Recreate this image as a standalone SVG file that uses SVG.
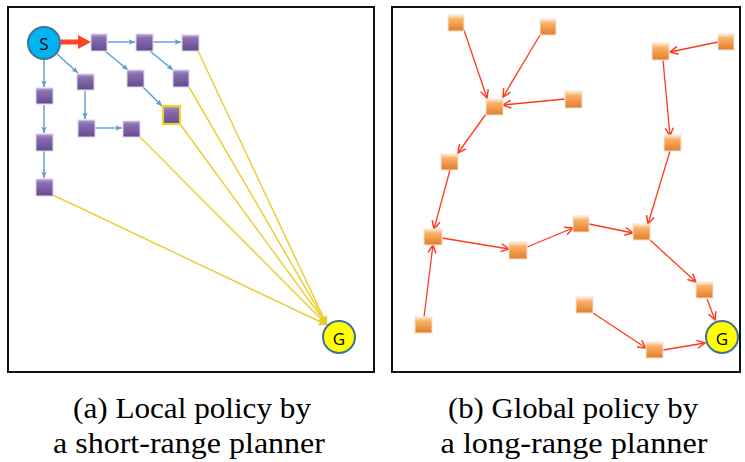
<svg xmlns="http://www.w3.org/2000/svg" width="745" height="462" viewBox="0 0 745 462">
  <defs>
    <linearGradient id="gPurple" x1="0" y1="0" x2="0" y2="1">
      <stop offset="0" stop-color="#b9a6d6"/>
      <stop offset="0.22" stop-color="#8a6fb3"/>
      <stop offset="1" stop-color="#654a8e"/>
    </linearGradient>
    <linearGradient id="gOrange" x1="0" y1="0" x2="0" y2="1">
      <stop offset="0" stop-color="#fff0d8"/>
      <stop offset="0.25" stop-color="#fbb26a"/>
      <stop offset="1" stop-color="#e27c28"/>
    </linearGradient>
    <marker id="mBlue" viewBox="0 0 10 10" refX="9" refY="5" markerUnits="userSpaceOnUse" markerWidth="8" markerHeight="8" orient="auto">
      <path d="M1,1.5 L9,5 L1,8.5 L3,5 Z" fill="#5b9bd5"/>
    </marker>
    <marker id="mYellow" viewBox="0 0 10 10" refX="9" refY="5" markerUnits="userSpaceOnUse" markerWidth="11" markerHeight="11" orient="auto">
      <path d="M1,1 L9,5 L1,9 L3,5 Z" fill="#e8cc30"/>
    </marker>
    <marker id="mRed" viewBox="0 0 10 10" refX="9" refY="5" markerUnits="userSpaceOnUse" markerWidth="10" markerHeight="10" orient="auto">
      <path d="M1,1 L9,5 L1,9" fill="none" stroke="#ff3a1c" stroke-width="1.5"/>
    </marker>
  </defs>
  <style>
    .frame { fill: #ffffff; stroke: #111111; stroke-width: 2; }
    .pnode { fill: url(#gPurple); stroke: #ddd6ea; stroke-width: 1; }
    .onode { fill: url(#gOrange); stroke: #efe3d6; stroke-width: 1; }
    .blue { stroke: #5b9bd5; stroke-width: 1.4; fill: none; marker-end: url(#mBlue); }
    .yellow { stroke: #ebcf36; stroke-width: 1.5; fill: none; marker-end: url(#mYellow); }
    .red { stroke: #ff3a1c; stroke-width: 1.3; fill: none; marker-end: url(#mRed); }
    .start { fill: #00b4f0; stroke: #41719c; stroke-width: 2; }
    .goal { fill: #ffff00; stroke: #41719c; stroke-width: 2; }
    .lbl { font-family: "Open Sans", "Liberation Sans", Arial, sans-serif; font-size: 17px; fill: #000; text-anchor: middle; dominant-baseline: central; }
    .cap { font-family: "Liberation Serif", "DejaVu Serif", serif; font-size: 30px; fill: #000; text-anchor: middle; }
  </style>

  <!-- panel frames -->
  <rect class="frame" x="8" y="7" width="366" height="365"/>
  <rect class="frame" x="392" y="7" width="348" height="365"/>

  <!-- (a) local planner: connectors -->
  <g id="connectors-local">
    <line class="blue" x1="44" y1="59" x2="44" y2="87"/>
    <line class="blue" x1="57" y1="54" x2="78" y2="73"/>
    <line class="blue" x1="108" y1="42" x2="135" y2="42"/>
    <line class="blue" x1="153" y1="42" x2="181" y2="42"/>
    <line class="blue" x1="105" y1="51" x2="128" y2="70"/>
    <line class="blue" x1="150" y1="51" x2="173" y2="70"/>
    <line class="blue" x1="143" y1="87" x2="162" y2="106"/>
    <line class="blue" x1="85" y1="91" x2="85" y2="119"/>
    <line class="blue" x1="95" y1="128" x2="122" y2="128"/>
    <line class="blue" x1="44" y1="105" x2="44" y2="133"/>
    <line class="blue" x1="44" y1="151" x2="44" y2="178"/>
    <line class="yellow" x1="198" y1="51" x2="327" y2="325"/>
    <line class="yellow" x1="189" y1="87" x2="327" y2="325"/>
    <line class="yellow" x1="180" y1="124" x2="327" y2="325"/>
    <line class="yellow" x1="139" y1="136" x2="327" y2="325"/>
    <line class="yellow" x1="53" y1="195" x2="327" y2="325"/>
    <!-- thick first step -->
    <line x1="61" y1="42" x2="80" y2="42" stroke="#ff4526" stroke-width="5"/>
    <polygon points="78,35 91,42 78,49" fill="#ff4526"/>
  </g>

  <!-- (a) local planner: nodes -->
  <g id="S"><circle class="start" cx="44" cy="43" r="16"/><text class="lbl" x="44" y="43">S</text></g>
  <g id="a1"><rect class="pnode" x="91" y="34" width="16" height="17"/></g>
  <g id="a2"><rect class="pnode" x="136" y="34" width="17" height="17"/></g>
  <g id="a3"><rect class="pnode" x="182" y="35" width="17" height="16"/></g>
  <g id="a4"><rect class="pnode" x="127" y="70" width="17" height="17"/></g>
  <g id="a5"><rect class="pnode" x="173" y="70" width="16" height="17"/></g>
  <g id="a6"><rect x="163" y="106" width="17" height="18" fill="url(#gPurple)" stroke="#ecd22c" stroke-width="2.2"/></g>
  <g id="a7"><rect class="pnode" x="77" y="74" width="17" height="16"/></g>
  <g id="a8"><rect class="pnode" x="78" y="120" width="17" height="17"/></g>
  <g id="a9"><rect class="pnode" x="123" y="121" width="17" height="16"/></g>
  <g id="a10"><rect class="pnode" x="36" y="88" width="17" height="16"/></g>
  <g id="a11"><rect class="pnode" x="36" y="134" width="17" height="17"/></g>
  <g id="a12"><rect class="pnode" x="36" y="179" width="17" height="17"/></g>
  <g id="G-local"><circle class="goal" cx="339" cy="337" r="16"/><text class="lbl" x="339" y="338">G</text></g>

  <!-- (b) global planner: connectors -->
  <g id="connectors-global">
    <line class="red" x1="464" y1="30" x2="487" y2="98"/>
    <line class="red" x1="540" y1="35" x2="503" y2="97"/>
    <line class="red" x1="565" y1="99" x2="503" y2="105"/>
    <line class="red" x1="486" y1="114" x2="458" y2="153"/>
    <line class="red" x1="450" y1="170" x2="434" y2="229"/>
    <line class="red" x1="424" y1="317" x2="433" y2="245"/>
    <line class="red" x1="442" y1="238" x2="509" y2="249"/>
    <line class="red" x1="527" y1="247" x2="573" y2="228"/>
    <line class="red" x1="589" y1="224" x2="633" y2="233"/>
    <line class="red" x1="718" y1="42" x2="670" y2="52"/>
    <line class="red" x1="663" y1="60" x2="670" y2="136"/>
    <line class="red" x1="670" y1="151" x2="648" y2="224"/>
    <line class="red" x1="650" y1="240" x2="696" y2="282"/>
    <line class="red" x1="707" y1="299" x2="715" y2="320"/>
    <line class="red" x1="593" y1="313" x2="646" y2="348"/>
    <line class="red" x1="663" y1="350" x2="705" y2="343"/>
  </g>

  <!-- (b) global planner: nodes -->
  <g id="bA"><rect class="onode" x="448" y="15" width="16" height="16"/></g>
  <g id="bB"><rect class="onode" x="540" y="19" width="16" height="16"/></g>
  <g id="bC"><rect class="onode" x="486" y="99" width="17" height="16"/></g>
  <g id="bD"><rect class="onode" x="565" y="91" width="17" height="17"/></g>
  <g id="bE"><rect class="onode" x="441" y="154" width="17" height="16"/></g>
  <g id="bF"><rect class="onode" x="652" y="43" width="17" height="17"/></g>
  <g id="bH"><rect class="onode" x="718" y="34" width="16" height="16"/></g>
  <g id="bI"><rect class="onode" x="664" y="135" width="17" height="16"/></g>
  <g id="bJ"><rect class="onode" x="424" y="229" width="18" height="16"/></g>
  <g id="bK"><rect class="onode" x="509" y="242" width="18" height="17"/></g>
  <g id="bL"><rect class="onode" x="573" y="216" width="16" height="16"/></g>
  <g id="bM"><rect class="onode" x="633" y="224" width="17" height="16"/></g>
  <g id="bN"><rect class="onode" x="696" y="282" width="17" height="16"/></g>
  <g id="bO"><rect class="onode" x="415" y="317" width="17" height="16"/></g>
  <g id="bP"><rect class="onode" x="576" y="297" width="17" height="16"/></g>
  <g id="bQ"><rect class="onode" x="646" y="342" width="17" height="16"/></g>
  <g id="G-global"><circle class="goal" cx="722" cy="337" r="16"/><text class="lbl" x="722" y="338">G</text></g>

  <!-- captions -->
  <g id="captions">
    <text class="cap" x="192" y="418" textLength="238" lengthAdjust="spacingAndGlyphs">(a) Local policy by</text>
    <text class="cap" x="189" y="453" textLength="272" lengthAdjust="spacingAndGlyphs">a short-range planner</text>
    <text class="cap" x="573" y="418" textLength="250" lengthAdjust="spacingAndGlyphs">(b) Global policy by</text>
    <text class="cap" x="574" y="453" textLength="267" lengthAdjust="spacingAndGlyphs">a long-range planner</text>
  </g>
</svg>
